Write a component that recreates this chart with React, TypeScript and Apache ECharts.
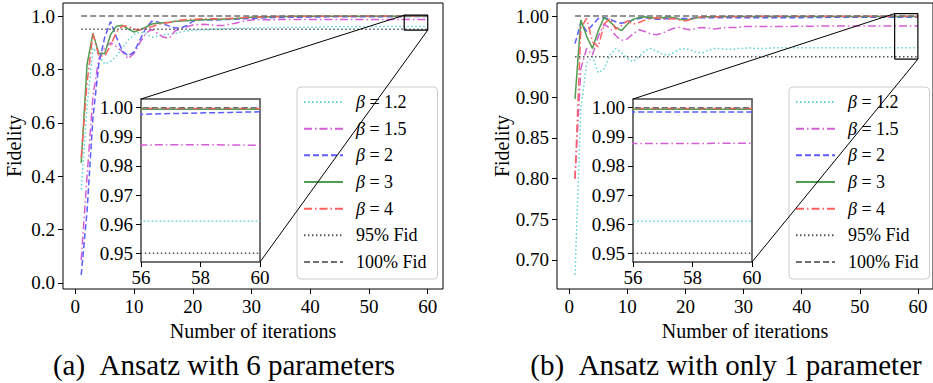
import React, { useEffect, useRef } from 'react';
import * as echarts from 'echarts';

const iterations = [1,2,3,4,5,6,7,8,9,10,11,12,13,14,15,16,17,18,19,20,21,22,23,24,25,26,27,28,29,30,31,32,33,34,35,36,37,38,39,40,41,42,43,44,45,46,47,48,49,50,51,52,53,54,55,56,57,58,59,60];

// (a) Ansatz with 6 parameters
const a_beta12 = [0.35,0.66,0.88,0.855,0.82,0.83,0.85,0.88,0.91,0.93,0.94,0.935,0.92,0.925,0.93,0.932,0.935,0.94,0.944,0.946,0.947,0.948,0.95,0.951,0.952,0.953,0.954,0.954,0.955,0.955,0.956,0.956,0.957,0.957,0.957,0.958,0.958,0.958,0.959,0.959,0.959,0.959,0.96,0.96,0.96,0.96,0.96,0.96,0.96,0.961,0.961,0.961,0.961,0.961,0.961,0.961,0.961,0.961,0.961,0.961];
const a_beta15 = [0.086,0.4,0.7,0.84,0.88,0.9,0.885,0.866,0.84,0.86,0.9,0.935,0.95,0.935,0.92,0.917,0.945,0.952,0.96,0.966,0.968,0.969,0.967,0.964,0.964,0.968,0.972,0.977,0.982,0.985,0.986,0.986,0.986,0.986,0.987,0.987,0.987,0.987,0.987,0.987,0.987,0.987,0.987,0.987,0.987,0.987,0.987,0.987,0.987,0.987,0.987,0.987,0.987,0.987,0.987,0.9872,0.9873,0.9873,0.9872,0.9871];
const a_beta2 = [0.03,0.27,0.62,0.82,0.92,0.979,0.92,0.87,0.85,0.866,0.91,0.955,0.98,0.978,0.97,0.962,0.955,0.955,0.965,0.98,0.986,0.986,0.985,0.985,0.986,0.987,0.988,0.989,0.99,0.991,0.992,0.993,0.993,0.994,0.994,0.995,0.995,0.995,0.996,0.996,0.996,0.996,0.997,0.997,0.997,0.997,0.997,0.997,0.9975,0.9975,0.9975,0.9975,0.9976,0.9976,0.9976,0.9977,0.998,0.9982,0.9984,0.9986];
const a_beta3 = [0.45,0.82,0.935,0.86,0.86,0.93,0.962,0.965,0.952,0.94,0.948,0.958,0.97,0.973,0.975,0.977,0.98,0.981,0.982,0.984,0.985,0.986,0.987,0.988,0.988,0.989,0.99,0.992,0.994,0.995,0.996,0.997,0.997,0.998,0.998,0.998,0.999,0.999,0.999,0.999,0.999,0.999,0.999,0.9993,0.9993,0.9993,0.9994,0.9994,0.9994,0.9994,0.9995,0.9995,0.9995,0.9995,0.9995,0.9995,0.9995,0.9995,0.9995,0.9995];
const a_beta4 = [0.47,0.75,0.935,0.85,0.85,0.89,0.94,0.963,0.962,0.95,0.948,0.955,0.96,0.968,0.973,0.976,0.979,0.985,0.987,0.988,0.989,0.99,0.99,0.99,0.99,0.991,0.992,0.993,0.994,0.995,0.996,0.997,0.997,0.998,0.998,0.998,0.999,0.999,0.999,0.999,0.9993,0.9993,0.9994,0.9994,0.9995,0.9995,0.9995,0.9996,0.9996,0.9996,0.9996,0.9997,0.9997,0.9997,0.9997,0.9997,0.9997,0.9997,0.9997,0.9997];

// (b) Ansatz with only 1 parameter
const b_beta12 = [0.682,0.885,0.942,0.95,0.93,0.935,0.952,0.96,0.955,0.948,0.944,0.95,0.957,0.96,0.957,0.953,0.952,0.955,0.959,0.96,0.958,0.955,0.955,0.958,0.96,0.96,0.959,0.959,0.96,0.96,0.961,0.96,0.96,0.96,0.961,0.961,0.961,0.961,0.961,0.961,0.961,0.961,0.961,0.961,0.961,0.961,0.961,0.961,0.961,0.961,0.961,0.961,0.961,0.961,0.961,0.961,0.961,0.961,0.961,0.961];
const b_beta15 = [0.8,0.935,0.96,0.952,0.975,0.99,0.985,0.976,0.97,0.972,0.978,0.983,0.981,0.978,0.977,0.979,0.982,0.985,0.986,0.984,0.983,0.985,0.986,0.985,0.984,0.985,0.986,0.986,0.986,0.987,0.987,0.987,0.987,0.987,0.987,0.987,0.987,0.987,0.9875,0.9875,0.9875,0.9875,0.9876,0.9876,0.9876,0.9876,0.9876,0.9877,0.9877,0.9877,0.9877,0.9877,0.9877,0.9877,0.9877,0.9877,0.9877,0.9877,0.9878,0.9878];
const b_beta2 = [0.966,0.992,0.981,0.989,0.997,0.998,0.996,0.993,0.991,0.993,0.995,0.997,0.998,0.997,0.996,0.996,0.997,0.997,0.997,0.997,0.997,0.998,0.998,0.998,0.998,0.998,0.998,0.998,0.998,0.998,0.998,0.998,0.998,0.998,0.998,0.998,0.998,0.998,0.998,0.998,0.9982,0.9982,0.9983,0.9983,0.9984,0.9984,0.9984,0.9985,0.9985,0.9985,0.9985,0.9985,0.9985,0.9985,0.9985,0.9985,0.9985,0.9985,0.9985,0.9985];
const b_beta3 = [0.898,0.995,0.975,0.96,0.982,0.998,0.993,0.986,0.982,0.99,0.996,0.998,0.999,0.998,0.997,0.998,0.999,0.998,0.996,0.995,0.996,0.998,0.999,0.999,0.999,0.999,0.9993,0.9993,0.9993,0.9993,0.9994,0.9994,0.9994,0.9994,0.9994,0.9994,0.9994,0.9995,0.9995,0.9995,0.9995,0.9995,0.9995,0.9995,0.9995,0.9995,0.9995,0.9995,0.9995,0.9995,0.9995,0.9995,0.9995,0.9995,0.9995,0.9995,0.9995,0.9995,0.9995,0.9995];
const b_beta4 = [0.8,0.985,0.997,0.968,0.962,0.99,0.997,0.984,0.988,0.994,0.99,0.992,0.995,0.997,0.998,0.997,0.996,0.997,0.995,0.994,0.996,0.998,0.999,0.999,0.999,0.999,0.9993,0.9994,0.9994,0.9995,0.9995,0.9996,0.9996,0.9996,0.9996,0.9996,0.9996,0.9997,0.9997,0.9997,0.9997,0.9997,0.9997,0.9997,0.9997,0.9997,0.9997,0.9997,0.9997,0.9997,0.9997,0.9997,0.9997,0.9997,0.9997,0.9997,0.9997,0.9997,0.9997,0.9997];

const fid95 = [[1, 0.95], [60, 0.95]];
const fid100 = [[1, 1.0], [60, 1.0]];

const seriesNames = ['β = 1.2', 'β = 1.5', 'β = 2', 'β = 3', 'β = 4', '95% Fid', '100% Fid'];
const captions = ['(a)\u00a0\u00a0Ansatz with 6 parameters', '(b)\u00a0\u00a0Ansatz with only 1 parameter'];

const mainXTicks = [0, 10, 20, 30, 40, 50, 60];
const leftYTicks = [0, 0.2, 0.4, 0.6, 0.8, 1.0];
const rightYTicks = [0.7, 0.75, 0.8, 0.85, 0.9, 0.95, 1.0];
const insetXTicks = [56, 58, 60];
const insetYTicks = [0.95, 0.96, 0.97, 0.98, 0.99, 1.0];

const zoomX = [56, 60];
const zoomY = [0.947, 1.003];

const FONT = 'Liberation Serif';
const styles = [
  { color: '#5cd3d3', type: [1.5, 2.5] as any },
  { color: '#d35fd3', type: [8, 3, 1.5, 3] as any },
  { color: '#5c5cff', type: [6, 3] as any },
  { color: '#4f9d4f', type: 'solid' as any },
  { color: '#ff5f5f', type: [8, 3, 1.5, 3] as any },
  { color: '#555555', type: [1.5, 2.5] as any },
  { color: '#707070', type: [6, 3] as any },
];

function pairs(vals: number[]) {
  return iterations.map((x, i) => [x, vals[i]]);
}

function buildSeries(data: number[][], axisIndex: number, z: number) {
  const all = [...data.map(pairs), fid95, fid100];
  return all.map((d, k) => ({
    type: 'line',
    name: seriesNames[k],
    xAxisIndex: axisIndex,
    yAxisIndex: axisIndex,
    data: d,
    symbol: 'none',
    showSymbol: false,
    clip: true,
    z,
    lineStyle: { color: styles[k].color, width: 1.5, type: styles[k].type },
    itemStyle: { color: styles[k].color },
    emphasis: { disabled: true },
  }));
}

function boxSeries(axisIndex: number) {
  return {
    type: 'line',
    name: 'zoom',
    xAxisIndex: axisIndex,
    yAxisIndex: axisIndex,
    data: [[zoomX[0], zoomY[0]], [zoomX[1], zoomY[0]], [zoomX[1], zoomY[1]], [zoomX[0], zoomY[1]], [zoomX[0], zoomY[0]]],
    symbol: 'none',
    z: 3,
    lineStyle: { color: '#000', width: 1.2, type: 'solid' },
    emphasis: { disabled: true },
  };
}

const tickLabel = { fontSize: 19, fontFamily: FONT, color: '#000' };

function xAxis(gridIndex: number, inset: boolean) {
  const ticks = inset ? insetXTicks : mainXTicks;
  return {
    type: 'value',
    gridIndex,
    min: inset ? zoomX[0] : -2.1,
    max: inset ? zoomX[1] : 62.6,
    z: inset ? 5 : 1,
    axisLine: { show: false, onZero: false },
    splitLine: { show: false },
    axisTick: { show: true, length: 5, lineStyle: { color: '#000', width: 1 }, customValues: ticks },
    axisLabel: { ...tickLabel, margin: inset ? 6 : 8, customValues: ticks, formatter: (v: number) => String(v) },
    name: inset ? '' : 'Number of iterations',
    nameLocation: 'middle',
    nameGap: 26,
    nameTextStyle: { fontSize: 20, fontFamily: FONT, color: '#000' },
  };
}

function yAxis(gridIndex: number, min: number, max: number, ticks: number[], digits: number, inset: boolean, nameGap: number) {
  return {
    type: 'value',
    gridIndex,
    min,
    max,
    z: inset ? 5 : 1,
    axisLine: { show: false, onZero: false },
    splitLine: { show: false },
    axisTick: { show: true, length: 5, lineStyle: { color: '#000', width: 1 }, customValues: ticks },
    axisLabel: { ...tickLabel, margin: 8, customValues: ticks, formatter: (v: number) => v.toFixed(digits) },
    name: inset ? '' : 'Fidelity',
    nameLocation: 'middle',
    nameGap,
    nameTextStyle: { fontSize: 20, fontFamily: FONT, color: '#000' },
  };
}

function legend(left: number) {
  return {
    show: true,
    orient: 'vertical',
    left,
    top: 87,
    data: seriesNames,
    itemWidth: 39,
    itemHeight: 14,
    itemGap: 6.67,
    padding: [5, 11, 7, 6],
    backgroundColor: 'rgba(255,255,255,0.8)',
    borderColor: '#cccccc',
    borderWidth: 1,
    borderRadius: 4,
    selectedMode: false,
    z: 8,
    itemStyle: { color: 'rgba(0,0,0,0)', borderColor: 'rgba(0,0,0,0)', borderWidth: 0, opacity: 0 },
    textStyle: {
      fontSize: 18,
      fontFamily: FONT,
      color: '#000',
      lineHeight: 20,
      padding: [0, 0, 0, 8],
      rich: { i: { fontSize: 18, fontFamily: FONT, fontStyle: 'italic', color: '#000' } },
    },
    formatter: (name: string) => (name.startsWith('β') ? '{i|β}' + name.slice(1) : name),
  };
}

export default function App() {
  const ref = useRef<HTMLDivElement>(null);
  useEffect(() => {
    const chart = echarts.init(ref.current as HTMLDivElement, null, { renderer: 'svg' });
    const option: any = {
      animation: false,
      backgroundColor: '#fff',
      grid: [
        { left: 63, top: 3, width: 380, height: 286, show: true, borderColor: '#000', borderWidth: 1, backgroundColor: 'transparent', z: 0 },
        { left: 141, top: 99, width: 119, height: 163, show: true, borderColor: '#444', borderWidth: 1.5, backgroundColor: '#fff', z: 4 },
        { left: 557, top: 3, width: 380, height: 286, show: true, borderColor: '#000', borderWidth: 1, backgroundColor: 'transparent', z: 0 },
        { left: 633, top: 99, width: 119, height: 163, show: true, borderColor: '#444', borderWidth: 1.5, backgroundColor: '#fff', z: 4 },
      ],
      xAxis: [xAxis(0, false), xAxis(1, true), xAxis(2, false), xAxis(3, true)],
      yAxis: [
        yAxis(0, -0.0225, 1.0487, leftYTicks, 1, false, 39),
        yAxis(1, zoomY[0], zoomY[1], insetYTicks, 2, true, 0),
        yAxis(2, 0.6643, 1.016, rightYTicks, 2, false, 43),
        yAxis(3, zoomY[0], zoomY[1], insetYTicks, 2, true, 0),
      ],
      legend: [legend(297), legend(789)],
      series: [
        ...buildSeries([a_beta12, a_beta15, a_beta2, a_beta3, a_beta4], 0, 2),
        boxSeries(0),
        ...buildSeries([a_beta12, a_beta15, a_beta2, a_beta3, a_beta4], 1, 6),
        ...buildSeries([b_beta12, b_beta15, b_beta2, b_beta3, b_beta4], 2, 2),
        boxSeries(2),
        ...buildSeries([b_beta12, b_beta15, b_beta2, b_beta3, b_beta4], 3, 6),
      ],
      graphic: [
        { id: 'capA', type: 'text', x: 224, y: 365, z: 10, style: { text: captions[0], fontSize: 29, fontFamily: FONT, fill: '#000', align: 'center', verticalAlign: 'middle' } },
        { id: 'capB', type: 'text', x: 726, y: 365, z: 10, style: { text: captions[1], fontSize: 29, fontFamily: FONT, fill: '#000', align: 'center', verticalAlign: 'middle' } },
      ],
    };
    chart.setOption(option);

    const conn: any[] = [];
    [0, 2].forEach((m, idx) => {
      const s = m + 1;
      const rTL = chart.convertToPixel({ gridIndex: m }, [zoomX[0], zoomY[1]]) as number[];
      const rBR = chart.convertToPixel({ gridIndex: m }, [zoomX[1], zoomY[0]]) as number[];
      const iTL = chart.convertToPixel({ gridIndex: s }, [zoomX[0], zoomY[1]]) as number[];
      const iBR = chart.convertToPixel({ gridIndex: s }, [zoomX[1], zoomY[0]]) as number[];
      conn.push({ id: 'c1_' + idx, type: 'line', z: 20, silent: true, shape: { x1: iTL[0], y1: iTL[1], x2: rTL[0], y2: rTL[1] }, style: { stroke: '#000', lineWidth: 1 } });
      conn.push({ id: 'c2_' + idx, type: 'line', z: 20, silent: true, shape: { x1: iBR[0], y1: iBR[1], x2: rBR[0], y2: rBR[1] }, style: { stroke: '#000', lineWidth: 1 } });
    });
    chart.setOption({ graphic: conn });

    return () => chart.dispose();
  }, []);
  return <div ref={ref} style={{ position: 'absolute', left: 0, top: 0, width: 933, height: 383 }} />;
}
